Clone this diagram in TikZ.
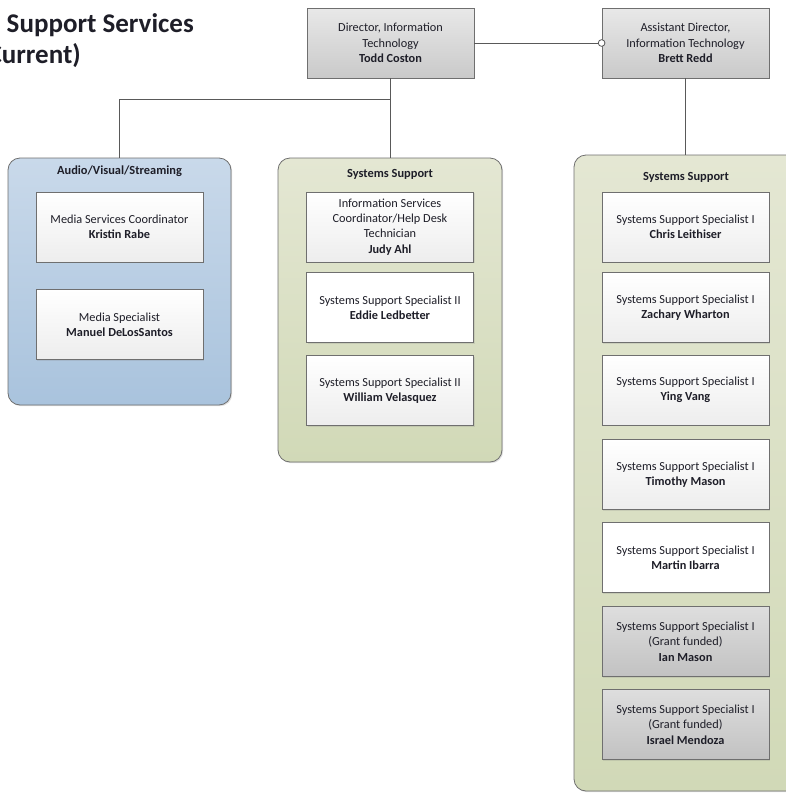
\documentclass[tikz,border=0pt]{standalone}
\usepackage{fontspec}
\setmainfont{Carlito}
\usetikzlibrary{arrows.meta,shadows}

\definecolor{avtop}{HTML}{C9D9EA}
\definecolor{avbot}{HTML}{A9C3DD}
\definecolor{sstop}{HTML}{E4E7D3}
\definecolor{ssbot}{HTML}{D1D9B7}
\definecolor{edge}{HTML}{6F6F6F}
\definecolor{ink}{HTML}{1E1E28}

\tikzset {
    unitbox/.style={rectangle, draw=edge, line width=0.8pt, rounded corners=12pt, drop shadow={shadow xshift=1.2pt, shadow yshift=-1.2pt, opacity=0.25}},
    avunit/.style={unitbox, top color=avtop, bottom color=avbot},
    ssunit/.style={unitbox, top color=sstop, bottom color=ssbot},
    unittitle/.style={font=\fontsize{12.4pt}{14pt}\selectfont\bfseries, text=ink},
    pagetitle/.style={anchor=base east, inner sep=0pt, font=\fontsize{27pt}{31pt}\selectfont\bfseries, text=ink},
    card/.style={rectangle, draw=edge, line width=0.8pt, minimum width=167pt, minimum height=70pt, inner sep=1pt, align=center, text=ink, font=\fontsize{12.3pt}{15.3pt}\selectfont, drop shadow={shadow xshift=1pt, shadow yshift=-1pt, opacity=0.2}},
    headbox/.style={card, top color=gray!18, bottom color=gray!42},
    staff/.style={card, top color=white, bottom color=gray!14},
    staffwhite/.style={card, fill=white},
    grantbox/.style={card, top color=gray!26, bottom color=gray!48},
    link/.style={draw=edge!80!black, line width=0.8pt},
}

\begin{document}
\begin{tikzpicture}[x=1pt, y=-1pt]
    \useasboundingbox (0, 0) rectangle (786, 793);
    \clip (0, 0) rectangle (786, 793);

    % title
    \node (title1) at (194, 32) [pagetitle] {Support Services};
    \node (title2) at (81, 63) [pagetitle] {(Current)};

    % units
    \node (av) at (119.5, 281.5) [avunit, minimum width=223pt, minimum height=247pt] {};
    \node (ssa) at (390, 310) [ssunit, minimum width=224pt, minimum height=304pt] {};
    \node (ssb) at (686, 473) [ssunit, minimum width=224pt, minimum height=636pt] {};
    \node (avtitle) at (119.5, 171) [unittitle] {Audio/Visual/Streaming};
    \node (ssatitle) at (390, 174) [unittitle] {Systems Support};
    \node (ssbtitle) at (686, 177) [unittitle] {Systems Support};

    % leads
    \node (dir) at (390.5, 43) [headbox] {Director, Information\\Technology\\\textbf{Todd Coston}};
    \node (asst) at (685.5, 43) [headbox] {Assistant Director,\\Information Technology\\\textbf{Brett Redd}};

    % audio/visual
    \node (kr) at (119.5, 227) [staff] {Media Services Coordinator\\\textbf{Kristin Rabe}};
    \node (md) at (119.5, 324.5) [staff] {Media Specialist\\\textbf{Manuel DeLosSantos}};

    % systems support (director)
    \node (ja) at (390, 227) [staff] {Information Services\\Coordinator/Help Desk\\Technician\\\textbf{Judy Ahl}};
    \node (el) at (390, 307.5) [staffwhite] {Systems Support Specialist II\\\textbf{Eddie Ledbetter}};
    \node (wv) at (390, 390.5) [staff] {Systems Support Specialist II\\\textbf{William Velasquez}};

    % systems support (assistant)
    \node (cl) at (685.5, 227) [staff] {Systems Support Specialist I\\\textbf{Chris Leithiser}};
    \node (zw) at (685.5, 307.5) [staff] {Systems Support Specialist I\\\textbf{Zachary Wharton}};
    \node (yv) at (685.5, 390) [staff] {Systems Support Specialist I\\\textbf{Ying Vang}};
    \node (tm) at (685.5, 474.5) [staff] {Systems Support Specialist I\\\textbf{Timothy Mason}};
    \node (mi) at (685.5, 557.5) [staffwhite] {Systems Support Specialist I\\\textbf{Martin Ibarra}};
    \node (im) at (685.5, 641.5) [grantbox] {Systems Support Specialist I\\(Grant funded)\\\textbf{Ian Mason}};
    \node (ie) at (685.5, 724.5) [grantbox] {Systems Support Specialist I\\(Grant funded)\\\textbf{Israel Mendoza}};

    % connectors
    \draw [link] (dir.south) -- (dir.south |- ssa.north);
    \draw [link] (dir.south |- 0, 99) -| (av.north);
    \draw [link] (asst.south) -- (asst.south |- ssb.north);
    \draw [link, -{Circle[length=7.5pt, fill=white]}, shorten >=-3.75pt] (dir.east) -- (asst.west);
\end{tikzpicture}
\end{document}
